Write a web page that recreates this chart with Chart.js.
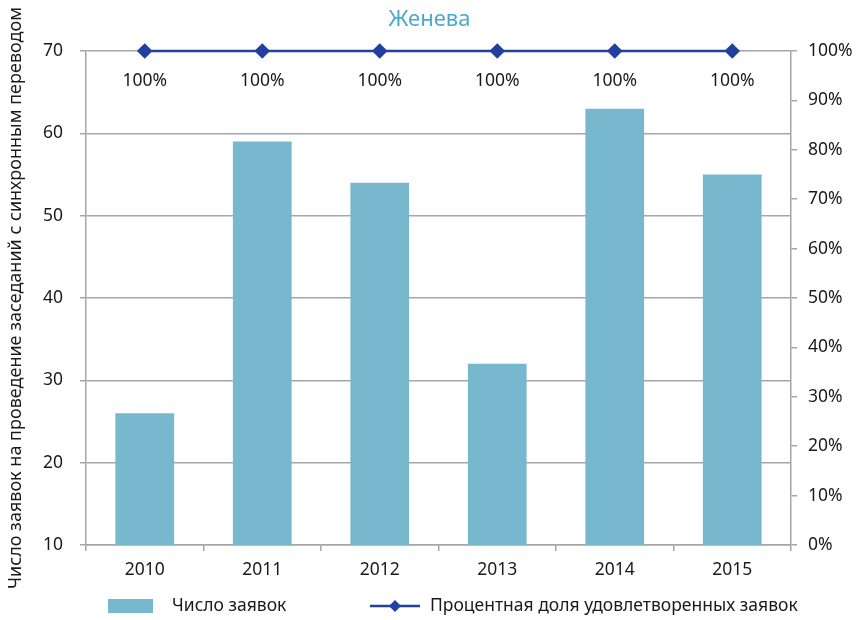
<!DOCTYPE html>
<html>
<head>
<meta charset="utf-8">
<script src="https://cdn.jsdelivr.net/npm/chart.js@4"></script>
<style>
  body { margin: 0; background: #fff; }
  #wrap { width: 859px; height: 620px; }
</style>
</head>
<body>
<div id="wrap"><canvas id="chart"></canvas></div>
<script>
const years = ["2010", "2011", "2012", "2013", "2014", "2015"];
const requests = [26, 59, 54, 32, 63, 55];
const shareSatisfied = [1, 1, 1, 1, 1, 1];
const leftTicks = [10, 20, 30, 40, 50, 60, 70];

const barColor = "#77b8cf";
const lineColor = "#2140a0";
const gridColor = "#a6a6a6";
const textColor = "#1a1a1a";
const fontFamily = "'Noto Sans', sans-serif";
const fontSize = 17.5;

// подписи 100% под точками линии
const pointLabels = {
  id: "pointLabels",
  afterDatasetsDraw(chart) {
    const ctx = chart.ctx;
    const meta = chart.getDatasetMeta(1);
    ctx.save();
    ctx.font = fontSize + "px " + fontFamily;
    ctx.fillStyle = textColor;
    ctx.textAlign = "center";
    ctx.textBaseline = "middle";
    meta.data.forEach((pt, i) => {
      ctx.fillText(Math.round(shareSatisfied[i] * 100) + "%", pt.x, pt.y + 30);
    });
    ctx.restore();
  }
};

// легенда внизу
const bottomLegend = {
  id: "bottomLegend",
  afterDraw(chart) {
    const ctx = chart.ctx;
    const y = 606;
    const ds = chart.data.datasets;
    ctx.save();
    ctx.font = fontSize + "px " + fontFamily;
    ctx.textBaseline = "middle";

    ctx.fillStyle = ds[0].backgroundColor;
    ctx.fillRect(108, y - 7, 45, 14);
    ctx.fillStyle = textColor;
    ctx.fillText(ds[0].label, 172, y);

    ctx.strokeStyle = ds[1].borderColor;
    ctx.lineWidth = 2.5;
    ctx.beginPath();
    ctx.moveTo(370, y);
    ctx.lineTo(420, y);
    ctx.stroke();
    ctx.fillStyle = ds[1].borderColor;
    ctx.beginPath();
    ctx.moveTo(395, y - 6);
    ctx.lineTo(401, y);
    ctx.lineTo(395, y + 6);
    ctx.lineTo(389, y);
    ctx.closePath();
    ctx.fill();
    ctx.fillStyle = textColor;
    ctx.fillText(ds[1].label, 430, y);
    ctx.restore();
  }
};

const ctx = document.getElementById("chart").getContext("2d");
const myChart = new Chart(ctx, {
  type: "bar",
  data: {
    labels: years,
    datasets: [
      {
        type: "bar",
        label: "Число заявок",
        data: requests,
        backgroundColor: barColor,
        yAxisID: "y",
        barPercentage: 0.5,
        categoryPercentage: 1,
        order: 2
      },
      {
        type: "line",
        label: "Процентная доля удовлетворенных заявок",
        data: shareSatisfied,
        borderColor: lineColor,
        backgroundColor: lineColor,
        borderWidth: 2.5,
        pointStyle: "rectRot",
        pointRadius: 6,
        yAxisID: "y1",
        clip: false,
        order: 1
      }
    ]
  },
  options: {
    responsive: true,
    maintainAspectRatio: false,
    animation: false,
    layout: { padding: { left: 0, right: 0, top: 0, bottom: 30 } },
    plugins: {
      legend: { display: false },
      tooltip: { enabled: false },
      title: {
        display: true,
        text: "Женева",
        color: "#4aa9cc",
        font: { family: fontFamily, size: 22, weight: "normal", lineHeight: 1.2 },
        padding: { top: 7, bottom: 17.6 }
      }
    },
    scales: {
      x: {
        grid: {
          offset: true,
          drawOnChartArea: false,
          color: gridColor,
          lineWidth: 1.5,
          tickLength: 6
        },
        border: { color: gridColor, width: 1.5 },
        ticks: {
          color: textColor,
          font: { family: fontFamily, size: fontSize },
          padding: 9
        },
        afterFit(scale) { scale.height = 45; }
      },
      y: {
        position: "left",
        min: 10,
        max: 70,
        afterBuildTicks(scale) { scale.ticks = leftTicks.map(v => ({ value: v })); },
        grid: { color: gridColor, lineWidth: 1.5, tickLength: 6 },
        border: { color: gridColor, width: 1.5 },
        ticks: {
          color: textColor,
          font: { family: fontFamily, size: fontSize },
          padding: 17
        },
        title: {
          display: true,
          text: "Число заявок на проведение заседаний с синхронным переводом",
          color: textColor,
          font: { family: fontFamily, size: 18 },
          padding: { top: 5, bottom: 0 }
        },
        afterFit(scale) { scale.width = 86; }
      },
      y1: {
        position: "right",
        min: 0,
        max: 1,
        ticks: {
          stepSize: 0.1,
          color: textColor,
          font: { family: fontFamily, size: fontSize },
          padding: 11,
          callback: v => Math.round(v * 100) + "%"
        },
        grid: { drawOnChartArea: false, color: gridColor, lineWidth: 1.5, tickLength: 6 },
        border: { color: gridColor, width: 1.5 },
        afterFit(scale) { scale.width = 68; }
      }
    }
  },
  plugins: [pointLabels, bottomLegend]
});
</script>
</body>
</html>
